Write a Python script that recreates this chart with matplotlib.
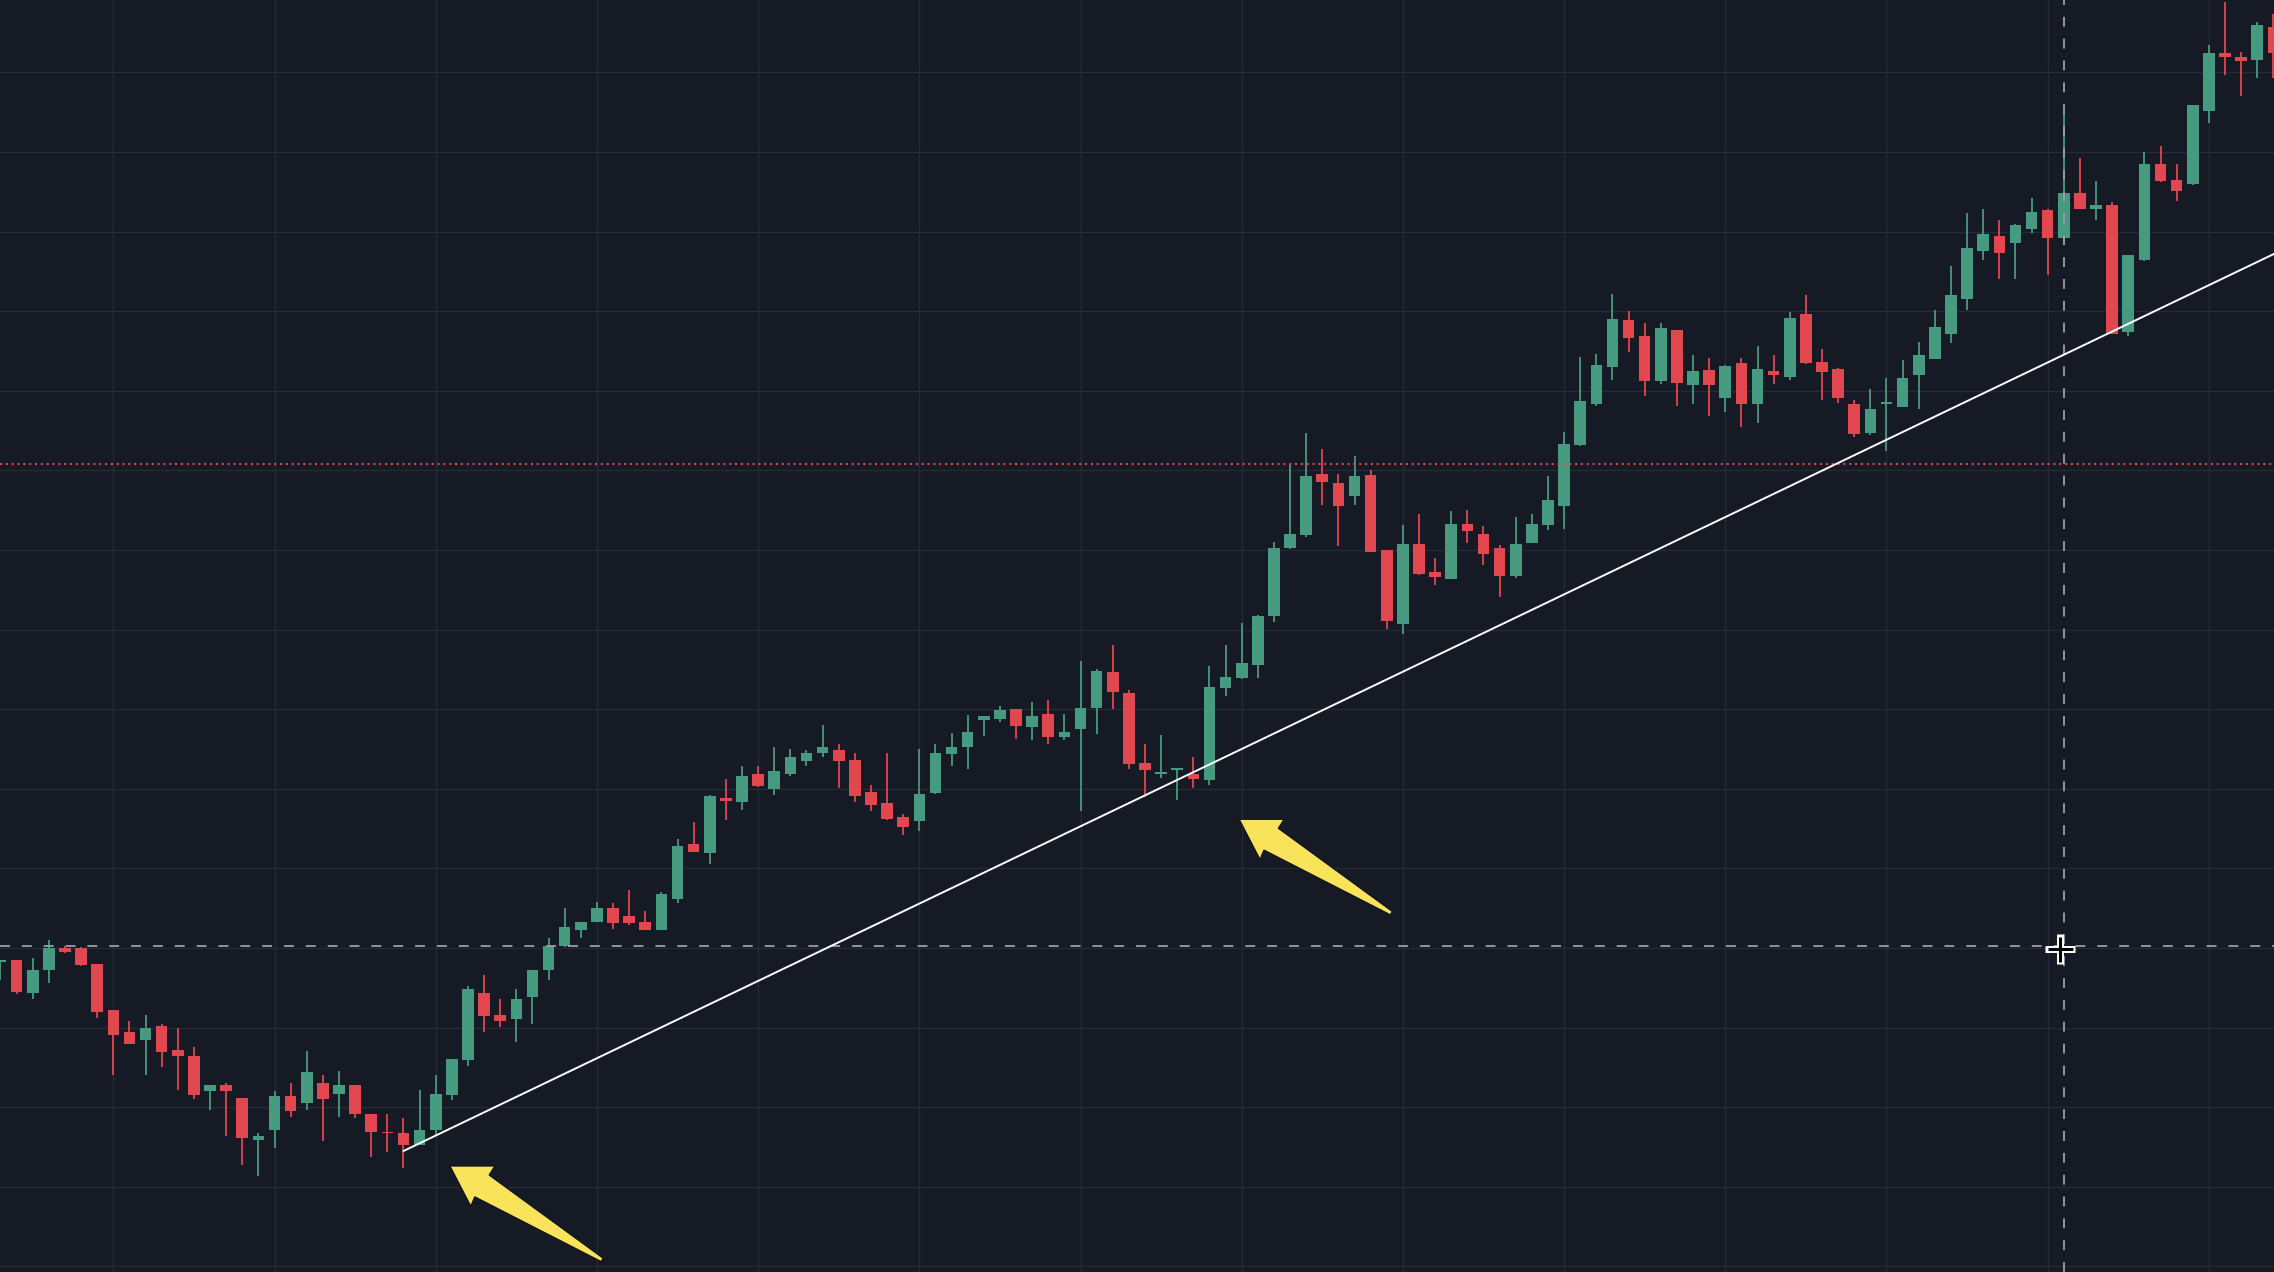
import numpy as np
import matplotlib
matplotlib.use("Agg")
import matplotlib.pyplot as plt
from matplotlib.patches import Polygon

# candle data (arbitrary price units)
opens = [98.2, 98.5, 94.4, 97.2, 100.0, 100.0, 98.0, 92.2, 89.5, 88.4,
         90.2, 87.2, 86.4, 82.0, 82.8, 81.2, 75.9, 77.1, 81.4, 80.5,
         83.1, 81.7, 82.8, 79.2, 76.9, 76.7, 75.3, 77.1, 81.5, 85.9,
         94.4, 91.6, 91.1, 93.8, 97.2, 100.2, 102.3, 103.3, 105.0, 104.0,
         103.3, 102.3, 106.2, 113.1, 111.9, 118.8, 118.4, 121.9, 120.0, 121.9,
         123.5, 124.5, 124.9, 123.6, 119.6, 118.2, 116.4, 116.0, 119.5, 124.4,
         125.2, 128.6, 128.8, 130.0, 127.8, 129.4, 126.5, 127.5, 130.2, 134.7,
         132.0, 123.2, 121.9, 122.4, 121.9, 121.1, 132.7, 133.9, 135.6, 141.7,
         150.2, 151.9, 159.6, 158.4, 156.8, 159.4, 150.0, 140.7, 150.8, 147.2,
         146.4, 153.3, 152.0, 150.3, 146.7, 150.9, 153.1, 155.5, 163.2, 168.3,
         173.0, 178.9, 176.9, 171.2, 177.6, 170.7, 172.6, 169.1, 173.5, 168.4,
         172.5, 171.8, 179.7, 173.6, 172.8, 168.4, 164.7, 168.4, 168.0, 172.0,
         174.0, 177.2, 181.5, 187.6, 189.5, 188.6, 190.3, 192.7, 189.2, 194.8,
         192.8, 193.3, 177.4, 186.4, 198.5, 196.5, 196.0, 205.2, 212.4, 212.0,
         211.6, 215.7]
highs = [98.4, 98.5, 98.8, 101.0, 100.3, 100.1, 98.0, 92.2, 90.8, 91.6,
         90.5, 90.0, 87.6, 82.8, 83.1, 81.2, 76.7, 82.0, 83.1, 87.1,
         84.0, 84.6, 82.8, 79.2, 79.2, 78.7, 82.2, 84.1, 86.1, 95.2,
         96.6, 93.6, 94.8, 97.2, 101.3, 105.0, 103.3, 105.8, 105.6, 107.3,
         104.7, 107.0, 113.7, 115.8, 119.2, 121.2, 122.9, 122.9, 125.3, 125.0,
         124.9, 128.0, 125.6, 124.5, 120.5, 124.5, 116.8, 125.0, 125.6, 127.0,
         129.3, 129.2, 130.4, 130.0, 130.9, 131.2, 129.4, 136.1, 135.0, 138.1,
         132.4, 125.6, 126.8, 122.6, 124.0, 135.4, 138.1, 140.8, 141.8, 151.0,
         160.7, 164.7, 162.7, 159.6, 161.8, 160.0, 150.0, 153.2, 154.5, 149.0,
         154.9, 155.0, 153.0, 150.6, 154.1, 154.5, 159.3, 164.8, 174.2, 174.6,
         182.2, 180.0, 178.5, 178.5, 177.7, 174.5, 174.1, 173.2, 174.1, 175.6,
         174.5, 179.9, 182.0, 175.2, 172.9, 168.8, 170.2, 171.6, 173.9, 176.1,
         180.2, 185.7, 192.3, 192.8, 191.4, 191.0, 194.2, 192.8, 204.9, 199.2,
         196.4, 193.7, 187.1, 200.0, 200.8, 198.5, 205.9, 213.4, 218.8, 212.6,
         216.3, 217.4]
lows = [96.0, 94.2, 93.6, 95.6, 99.4, 97.8, 91.2, 84.1, 87.9, 84.1,
        85.1, 82.2, 81.0, 79.7, 76.4, 72.7, 71.3, 74.9, 78.8, 79.7,
        75.7, 78.8, 78.7, 73.7, 74.4, 72.4, 75.2, 76.5, 80.9, 85.2,
        89.5, 90.1, 88.2, 90.5, 96.0, 100.1, 101.3, 103.3, 102.4, 102.9,
        102.3, 102.3, 105.7, 112.1, 110.5, 116.1, 117.3, 120.2, 119.2, 121.6,
        122.9, 124.0, 120.1, 118.3, 117.2, 116.1, 114.2, 114.7, 119.4, 122.9,
        122.5, 126.6, 128.4, 126.2, 126.1, 125.6, 126.1, 117.2, 126.9, 130.0,
        122.5, 119.0, 121.3, 118.6, 120.1, 120.5, 131.7, 133.8, 133.9, 140.9,
        150.1, 151.6, 155.7, 150.5, 155.7, 149.7, 140.1, 139.5, 146.9, 145.6,
        146.3, 150.9, 148.1, 144.1, 146.5, 150.9, 152.5, 152.6, 163.1, 168.1,
        171.3, 174.9, 169.3, 170.9, 168.1, 168.3, 166.9, 167.3, 165.4, 165.9,
        170.9, 171.3, 173.4, 168.8, 168.5, 164.2, 164.5, 162.5, 168.0, 167.7,
        174.0, 176.0, 180.1, 186.4, 184.1, 184.1, 189.8, 184.5, 188.7, 192.8,
        191.4, 177.2, 176.9, 186.3, 196.2, 193.8, 195.8, 203.6, 209.7, 207.1,
        209.3, 209.3]
closes = [98.4, 94.5, 97.2, 100.0, 99.5, 97.9, 92.0, 89.1, 88.0, 90.0,
          87.0, 86.4, 81.5, 82.8, 82.1, 76.1, 76.4, 81.4, 79.5, 84.4,
          81.0, 82.8, 79.2, 76.9, 76.7, 75.2, 77.2, 81.7, 86.0, 94.8,
          91.5, 90.8, 93.6, 97.2, 100.3, 102.6, 103.3, 105.0, 103.1, 103.1,
          102.3, 106.8, 112.8, 112.1, 119.1, 118.5, 121.6, 120.4, 122.2, 124.0,
          124.5, 125.2, 123.5, 119.1, 118.0, 116.2, 115.2, 119.4, 124.5, 125.2,
          127.2, 129.2, 129.9, 127.9, 129.2, 126.5, 127.2, 130.2, 134.8, 132.2,
          123.1, 122.4, 122.1, 122.6, 121.2, 132.8, 134.0, 135.8, 141.7, 150.2,
          152.0, 159.3, 158.6, 155.5, 159.3, 149.8, 141.1, 150.8, 147.0, 146.6,
          153.3, 152.4, 149.5, 146.8, 150.8, 153.3, 156.3, 163.3, 168.7, 173.2,
          179.0, 176.7, 171.2, 177.9, 171.0, 172.5, 170.7, 173.1, 168.4, 172.8,
          172.0, 179.2, 173.5, 172.4, 169.1, 164.6, 167.7, 168.6, 171.6, 174.5,
          178.0, 182.0, 187.9, 189.7, 187.3, 190.8, 192.5, 189.2, 194.8, 192.8,
          193.3, 177.2, 187.1, 198.5, 196.3, 195.1, 205.9, 212.4, 212.0, 211.4,
          216.0, 212.4]

# annotations
price_line = 160.8            # red dotted level
cross_x, cross_y = 128, 100.27
cursor_x, cursor_y = 127.76, 99.87
trend_x = [25, 141.04]
trend_y = [74.5, 187.2]
arrow_tips = [(27.89, 72.61), (76.85, 116.17)]

BG = '#161a25'
GRID = '#262a36'
GREEN = '#469a80'
RED = '#e2464f'
YELLOW = '#f8e35a'

W, H = 2274, 1272
xmin, xmax = -0.03, 141.04
ymin, ymax = 59.3, 219.1

fig = plt.figure(figsize=(W / 100, H / 100), dpi=100)
fig.patch.set_facecolor(BG)
ax = fig.add_axes([0, 0, 1, 1])
ax.set_facecolor(BG)
ax.set_xlim(xmin, xmax)
ax.set_ylim(ymin, ymax)

ax.set_xticks(np.arange(7, 142, 10))
ax.set_yticks(np.arange(60, 220, 10))
ax.grid(True, color=GRID, lw=0.9)
ax.set_axisbelow(True)
ax.tick_params(length=0, labelbottom=False, labelleft=False)
for s in ax.spines.values():
    s.set_visible(False)

o = np.array(opens)
c = np.array(closes)
idx = np.arange(len(o))
cols = np.where(c >= o, GREEN, RED)
ax.vlines(idx, lows, highs, colors=cols, lw=1.3, zorder=2)
ax.bar(idx, np.maximum(np.abs(c - o), 0.25), bottom=np.minimum(o, c),
       width=0.72, color=cols, linewidth=0, zorder=2.5)

# price line + crosshair
ax.axhline(price_line, color='#e0454e', lw=1.5, linestyle=(0, (1, 1.8)), zorder=3)
ax.axhline(cross_y, color='#9b9ea6', lw=1.3, dashes=(5.5, 6.6), zorder=4)
ax.axvline(cross_x, color='#9b9ea6', lw=1.3, dashes=(5.5, 6.6), zorder=4)

# trend line
ax.plot(trend_x, trend_y, color='white', lw=1.4, solid_capstyle='round', zorder=5)

# arrows, shape given in pixels relative to the tip (dx right, dy down)
shape_px = np.array([[0, 0], [44.7, 0], [39, 9], [153.0, 92.2],
                     [151.0, 95.4], [24.7, 30.7], [20.7, 40]])
sx = W / (xmax - xmin)
sy = H / (ymax - ymin)
for tx, ty in arrow_tips:
    pts = np.column_stack([tx + shape_px[:, 0] / sx, ty - shape_px[:, 1] / sy])
    ax.add_patch(Polygon(pts, closed=True, facecolor=YELLOW,
                         edgecolor='#0e1016', lw=0.8, zorder=6))

# mouse cursor
ax.plot(cursor_x, cursor_y, marker='+', ms=21, mew=5.0, color='white', zorder=7)
ax.plot(cursor_x, cursor_y, marker='+', ms=18, mew=2.2, color='black', zorder=8)

fig.savefig('out.png', dpi=100, facecolor=BG)
